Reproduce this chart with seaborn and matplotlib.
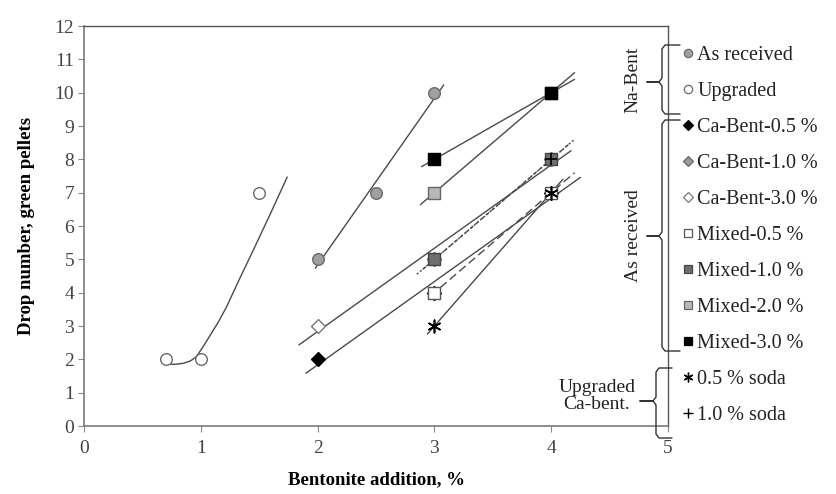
import numpy as np
import pandas as pd
import matplotlib.pyplot as plt
import seaborn as sns
from matplotlib.lines import Line2D

# values
na_recv_x = [2, 2.5, 3]
na_recv_y = [5, 7, 10]
na_upg_x = [0.7, 1, 1.5]
na_upg_y = [2, 2, 7]
# hand-drawn trend curve through the upgraded Na-bent points
na_upg_curve_x = [0.71, 0.78, 0.85, 0.91, 0.96, 1.02, 1.08, 1.15, 1.22, 1.33, 1.45, 1.60, 1.74]
na_upg_curve_y = [1.86, 1.85, 1.88, 1.95, 2.07, 2.38, 2.72, 3.12, 3.57, 4.40, 5.28, 6.40, 7.47]
ca05_x, ca05_y = [2, 3, 4], [2, 4, 7]
ca10_x, ca10_y = [3, 4], [5, 8]
ca30_x, ca30_y = [2, 3, 4], [3, 5, 8]
mx05_x, mx05_y = [3, 4], [4, 7]
mx10_x, mx10_y = [3, 4], [5, 8]
mx20_x, mx20_y = [3, 4], [7, 10]
mx30_x, mx30_y = [3, 4], [8, 10]
soda05_x, soda05_y = [3, 4], [3, 7]
soda10_x, soda10_y = [4], [8]

labels = ['As received', 'Upgraded', 'Ca-Bent-0.5 %', 'Ca-Bent-1.0 %', 'Ca-Bent-3.0 %',
          'Mixed-0.5 %', 'Mixed-1.0 %', 'Mixed-2.0 %', 'Mixed-3.0 %',
          '0.5 % soda', '1.0 % soda']

# x range covered by each linear trend line
trend_range = {
    'As received': (1.98, 3.08),
    'Ca-Bent-0.5 %': (1.90, 4.25),
    'Ca-Bent-1.0 %': (2.85, 4.20),
    'Ca-Bent-3.0 %': (1.84, 4.17),
    'Mixed-0.5 %': (3.05, 4.20),
    'Mixed-1.0 %': (2.90, 4.15),
    'Mixed-2.0 %': (2.88, 4.20),
    'Mixed-3.0 %': (2.89, 4.20),
    '0.5 % soda': (2.94, 4.10),
}

data = dict(zip(labels, [
    (na_recv_x, na_recv_y), (na_upg_x, na_upg_y),
    (ca05_x, ca05_y), (ca10_x, ca10_y), (ca30_x, ca30_y),
    (mx05_x, mx05_y), (mx10_x, mx10_y), (mx20_x, mx20_y), (mx30_x, mx30_y),
    (soda05_x, soda05_y), (soda10_x, soda10_y),
]))

# marker, face, edge, size, line style
style = {
    'As received': ('o', '#a0a0a0', '#6a6a6a', 70, '-'),
    'Upgraded': ('o', 'white', '#6a6a6a', 70, '-'),
    'Ca-Bent-0.5 %': ('D', 'black', 'black', 50, '-'),
    'Ca-Bent-1.0 %': ('D', '#9a9a9a', '#666666', 50, (0, (1.5, 1.5))),
    'Ca-Bent-3.0 %': ('D', 'white', '#777777', 50, '-'),
    'Mixed-0.5 %': ('s', 'white', '#555555', 70, (0, (6, 3))),
    'Mixed-1.0 %': ('s', '#6e6e6e', '#444444', 70, (0, (3, 2))),
    'Mixed-2.0 %': ('s', '#b8b8b8', '#666666', 70, '-'),
    'Mixed-3.0 %': ('s', 'black', 'black', 70, '-'),
    '0.5 % soda': ((6, 2, 0), 'black', 'black', 80, '-'),
    '1.0 % soda': ('+', 'black', 'black', 80, '-'),
}

sns.set_theme(style='white')
plt.rcParams['font.family'] = ['Liberation Serif', 'DejaVu Serif']

W, H = 836, 494
fig = plt.figure(figsize=(W / 100, H / 100), dpi=100)
ax = fig.add_axes([84 / W, 1 - 426 / H, (668 - 84) / W, (426 - 26) / H])

line_col = '#4a4a4a'

# trend lines
for lab, (lo, hi) in trend_range.items():
    xs, ys = data[lab]
    k, b = np.polyfit(xs, ys, 1)
    xx = np.linspace(lo, hi, 20)
    sns.lineplot(x=xx, y=k * xx + b, ax=ax, color=line_col, lw=1.0,
                 linestyle=style[lab][4], zorder=2)

sns.lineplot(x=na_upg_curve_x, y=na_upg_curve_y, ax=ax, sort=False,
             color=line_col, lw=1.0, zorder=2)

# markers
for lab in labels:
    xs, ys = data[lab]
    m, fc, ec, s, _ = style[lab]
    df = pd.DataFrame({'x': xs, 'y': ys})
    if m in ('+', (6, 2, 0)):
        sns.scatterplot(data=df, x='x', y='y', ax=ax, marker=m, s=s,
                        color=fc, linewidth=1.2, zorder=4)
    else:
        sns.scatterplot(data=df, x='x', y='y', ax=ax, marker=m, s=s,
                        color=fc, edgecolor=ec, linewidth=1.0, zorder=3)

ax.set_xlim(0, 5)
ax.set_ylim(0, 12)
ax.set_xticks(range(0, 6))
ax.set_yticks(range(0, 13))
ax.tick_params(axis='both', which='both', direction='out', length=4, width=0.8,
               color='#888888', labelsize=14, labelcolor='#444444',
               bottom=True, left=True, pad=3)
ax.tick_params(axis='x', pad=6)
for sp in ax.spines.values():
    sp.set_color('#7a7a7a')
    sp.set_linewidth(1.2)
ax.spines['top'].set_color('#555555')
ax.spines['top'].set_linewidth(1.0)
ax.spines['right'].set_color('#555555')
ax.spines['right'].set_linewidth(1.0)

ax.set_xlabel('Bentonite addition, %', fontsize=13.5, fontweight='bold', color='black', labelpad=10)
ax.set_ylabel('Drop number, green pellets', fontsize=13.5, fontweight='bold', color='black', labelpad=14)

# legend on the right
handles = []
for lab in labels:
    m, fc, ec, s, _ = style[lab]
    if m in ('+', (6, 2, 0)):
        h = Line2D([], [], ls='none', marker=m, color='black', ms=7, mew=1.0)
    else:
        h = Line2D([], [], ls='none', marker=m, mfc=fc, mec=ec, ms=6 if m != 'D' else 5, mew=0.9)
    handles.append(h)
fig.legend(handles, labels, loc='upper left', bbox_to_anchor=(682 / W, 1 - 46 / H),
           frameon=False, fontsize=14.5, labelspacing=0.84, handlelength=0.55,
           handletextpad=0.2, borderaxespad=0, borderpad=0, labelcolor='#222222')


# curly braces grouping the legend entries
def px(x, y):
    return x / W, 1 - y / H


def brace(y_top, y_bot, y_mid, xs, xr, xl):
    pts = [(xr, y_top), (xs + 3, y_top), (xs, y_top + 4), (xs, y_mid - 4), (xs - 3, y_mid),
           (xl, y_mid), (xs - 3, y_mid), (xs, y_mid + 4), (xs, y_bot - 4), (xs + 3, y_bot),
           (xr, y_bot)]
    fx, fy = zip(*[px(a, b) for a, b in pts])
    fig.add_artist(Line2D(fx, fy, transform=fig.transFigure, color='#333333', lw=1.0))


brace(45, 114, 82, 662, 680, 647)
brace(120, 351, 236, 662, 680, 647)
brace(368, 438, 401, 656, 672, 640)

fig.text(*px(633, 80), 'Na-Bent', rotation=90, ha='center', va='center', fontsize=14, color='#222222')
fig.text(*px(633, 236), 'As received', rotation=90, ha='center', va='center', fontsize=14, color='#222222')
fig.text(*px(597, 396), 'Upgraded\nCa-bent.', ha='center', va='center', fontsize=14,
         color='#222222', linespacing=1.05)

fig.savefig('out.png', dpi=100)
